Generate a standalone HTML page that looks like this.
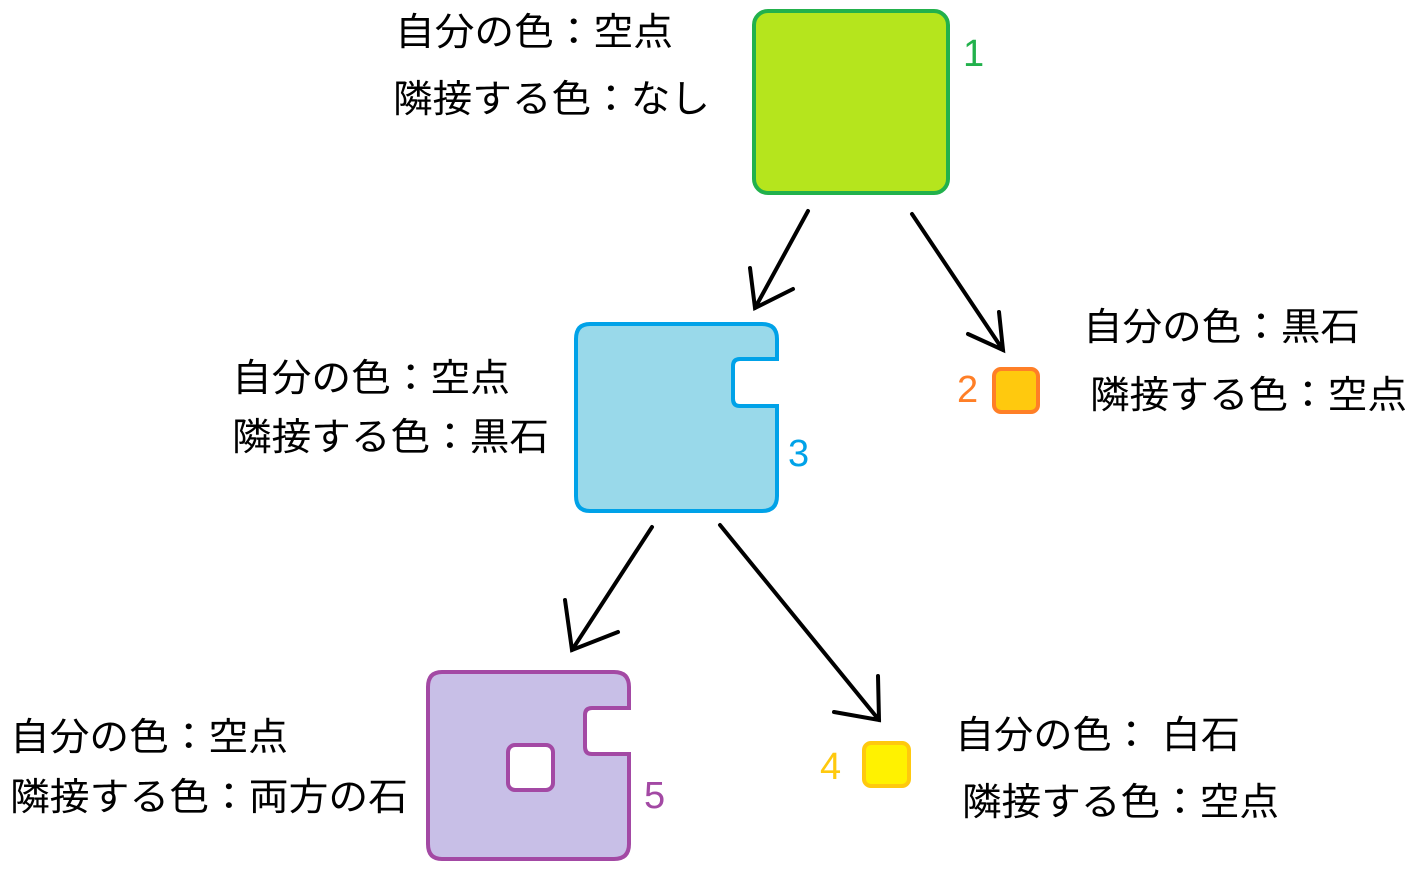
<!DOCTYPE html>
<html><head><meta charset="utf-8"><style>
html,body{margin:0;padding:0;background:#fff;}
svg{display:block;}
text{font-family:"Liberation Sans","Noto Sans CJK JP",sans-serif;}
.t{font-size:38px;fill:#000;}
.n{font-size:38px;}
</style></head><body>
<svg width="1415" height="874" viewBox="0 0 1415 874" xmlns="http://www.w3.org/2000/svg">
<!-- box1 -->
<rect x="754" y="11" width="194" height="182" rx="14" fill="#b5e51d" stroke="#22b14c" stroke-width="4"/>
<text class="n" x="963" y="66" fill="#22b14c">1</text>
<!-- box3 -->
<path d="M590,324 H762 Q777,324 777,339 V359 H740 Q733,359 733,366 V399 Q733,406 740,406 H777 V496 Q777,511 762,511 H590 Q576,511 576,496 V339 Q576,324 590,324 Z" fill="#99d9ea" stroke="#00a2e8" stroke-width="4"/>
<text class="n" x="788" y="466" fill="#00a2e8">3</text>
<!-- box5 -->
<path d="M442,672 H614 Q629,672 629,687 V708 H592 Q585,708 585,715 V747 Q585,754 592,754 H629 V844 Q629,859 614,859 H442 Q428,859 428,844 V687 Q428,672 442,672 Z" fill="#c8bfe7" stroke="#a349a4" stroke-width="4"/>
<rect x="508" y="745" width="45" height="45" rx="7" fill="#fff" stroke="#a349a4" stroke-width="4"/>
<text class="n" x="644" y="808" fill="#a349a4">5</text>
<!-- box2 -->
<rect x="994" y="369" width="44" height="43" rx="7" fill="#ffc90e" stroke="#ff7f27" stroke-width="4"/>
<text class="n" x="957" y="402" fill="#ff7f27">2</text>
<!-- box4 -->
<rect x="864" y="743" width="45" height="43" rx="7" fill="#fff200" stroke="#ffc90e" stroke-width="4"/>
<text class="n" x="820" y="779" fill="#ffc90e">4</text>
<!-- arrows -->
<g stroke="#000" stroke-width="4" stroke-linecap="round" fill="none">
<path d="M808,211 L755,308 M750,268 L755,308 L793,289"/>
<path d="M912,214 L1003,350 M968,334 L1003,350 L999,312"/>
<path d="M652,527 L572,650 M565,600 L572,650 L618,632"/>
<path d="M720,525 L879,720 M834,712 L879,720 L878,676"/>
</g>
<!-- labels -->
<text class="t" x="395" y="45" textLength="278" lengthAdjust="spacingAndGlyphs">自分の色：空点</text>
<text class="t" x="393" y="112" textLength="317" lengthAdjust="spacingAndGlyphs">隣接する色：なし</text>
<text class="t" x="1083" y="340" textLength="277" lengthAdjust="spacingAndGlyphs">自分の色：黒石</text>
<text class="t" x="1090" y="408" textLength="317" lengthAdjust="spacingAndGlyphs">隣接する色：空点</text>
<text class="t" x="232" y="391" textLength="278" lengthAdjust="spacingAndGlyphs">自分の色：空点</text>
<text class="t" x="232" y="450" textLength="317" lengthAdjust="spacingAndGlyphs">隣接する色：黒石</text>
<text class="t" x="10" y="750" textLength="278" lengthAdjust="spacingAndGlyphs">自分の色：空点</text>
<text class="t" x="10" y="810" textLength="398" lengthAdjust="spacingAndGlyphs">隣接する色：両方の石</text>
<text class="t" x="955" y="748" textLength="285" lengthAdjust="spacingAndGlyphs">自分の色： 白石</text>
<text class="t" x="962" y="815" textLength="317" lengthAdjust="spacingAndGlyphs">隣接する色：空点</text>
</svg>
</body></html>
